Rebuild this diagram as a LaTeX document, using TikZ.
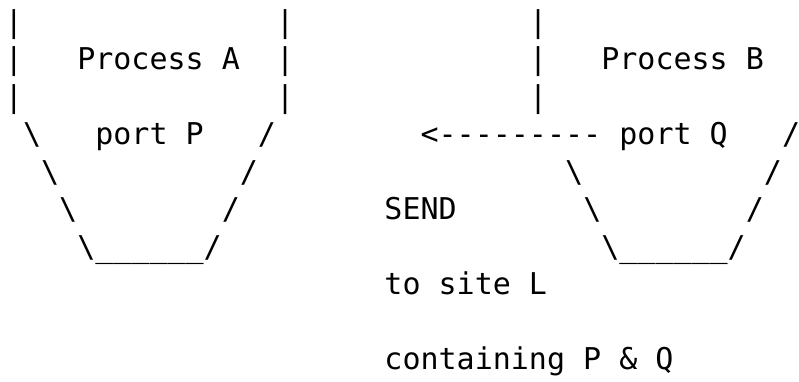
\documentclass[tikz,border=0pt]{standalone}
\usepackage{fontspec}
\setmonofont{DejaVu Sans Mono}
\newcommand{\bs}{\textbackslash}
\begin{document}
\begin{tikzpicture}[x=1pt,y=-1pt,
  ch/.style={anchor=base west,inner sep=0pt,outer sep=0pt,
    font=\ttfamily\fontsize{30}{36}\selectfont}]
\useasboundingbox (0,0) rectangle (799,382);
\def\cw{18.07}
\def\rh{37.4}
\def\ry{32.6}
% row 0
\node[ch] (a00) at ({5+0*\cw},{\ry+0*\rh}) {|};
\node[ch] (a01) at ({5+15*\cw},{\ry+0*\rh}) {|};
\node[ch] (b00) at ({5+29*\cw},{\ry+0*\rh}) {|};
% row 1
\node[ch] (a10) at ({5+0*\cw},{\ry+1*\rh}) {|};
\node[ch] (procA) at ({5+4*\cw},{\ry+1*\rh}) {Process A};
\node[ch] (a11) at ({5+15*\cw},{\ry+1*\rh}) {|};
\node[ch] (b10) at ({5+29*\cw},{\ry+1*\rh}) {|};
\node[ch] (procB) at ({5+33*\cw},{\ry+1*\rh}) {Process B};
% row 2
\node[ch] (a20) at ({5+0*\cw},{\ry+2*\rh}) {|};
\node[ch] (a21) at ({5+15*\cw},{\ry+2*\rh}) {|};
\node[ch] (b20) at ({5+29*\cw},{\ry+2*\rh}) {|};
% row 3
\node[ch] (a30) at ({5+1*\cw},{\ry+3*\rh}) {\bs};
\node[ch] (portP) at ({5+5*\cw},{\ry+3*\rh}) {port P};
\node[ch] (a31) at ({5+14*\cw},{\ry+3*\rh}) {/};
\node[ch] (arrow) at ({5+23*\cw},{\ry+3*\rh}) {<-{}-{}-{}-{}-{}-{}-{}-{}-};
\node[ch] (portQ) at ({5+34*\cw},{\ry+3*\rh}) {port Q};
\node[ch] (b31) at ({5+43*\cw},{\ry+3*\rh}) {/};
% row 4
\node[ch] (a40) at ({5+2*\cw},{\ry+4*\rh}) {\bs};
\node[ch] (a41) at ({5+13*\cw},{\ry+4*\rh}) {/};
\node[ch] (b40) at ({5+31*\cw},{\ry+4*\rh}) {\bs};
\node[ch] (b41) at ({5+42*\cw},{\ry+4*\rh}) {/};
% row 5
\node[ch] (a50) at ({5+3*\cw},{\ry+5*\rh}) {\bs};
\node[ch] (a51) at ({5+12*\cw},{\ry+5*\rh}) {/};
\node[ch] (send) at ({5+21*\cw},{\ry+5*\rh}) {SEND};
\node[ch] (b50) at ({5+32*\cw},{\ry+5*\rh}) {\bs};
\node[ch] (b51) at ({5+41*\cw},{\ry+5*\rh}) {/};
% row 6
\node[ch] (a6) at ({5+4*\cw},{\ry+6*\rh}) {\bs\_\_\_\_\_\_/};
\node[ch] (b6) at ({5+33*\cw},{\ry+6*\rh}) {\bs\_\_\_\_\_\_/};
% row 7
\node[ch] (site) at ({5+21*\cw},{\ry+7*\rh}) {to site L};
% row 9
\node[ch] (cont) at ({5+21*\cw},{\ry+9*\rh}) {containing P \& Q};
\end{tikzpicture}
\end{document}
